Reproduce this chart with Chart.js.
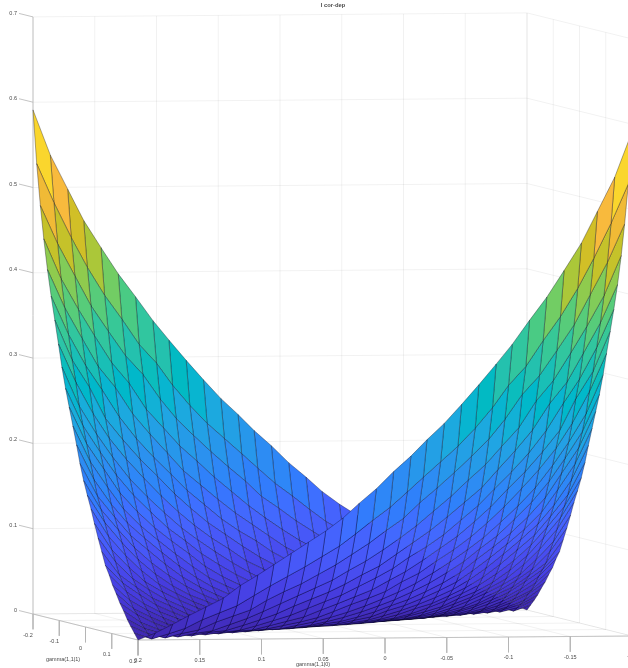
<!DOCTYPE html>
<html>
<head>
<meta charset="utf-8">
<title>I cor-dep</title>
<style>
  html, body { margin: 0; padding: 0; background: #fff; }
  #wrap { width: 628px; height: 668px; overflow: hidden; }
</style>
<script src="https://cdn.jsdelivr.net/npm/chart.js@4"></script>
</head>
<body>
<div id="wrap"><canvas id="surface" width="628" height="668"></canvas></div>
<script>
// Axis values
const gamma11 = [-0.2,-0.186,-0.172,-0.159,-0.145,-0.131,-0.117,-0.103,-0.09,-0.076,-0.062,-0.048,-0.034,-0.021,-0.007,0.007,0.021,0.034,0.048,0.062,0.076,0.09,0.103,0.117,0.131,0.145,0.159,0.172,0.186,0.2];
const gamma18 = [0.2,0.186,0.172,0.159,0.145,0.131,0.117,0.103,0.09,0.076,0.062,0.048,0.034,0.021,0.007,-0.007,-0.021,-0.034,-0.048,-0.062,-0.076,-0.09,-0.103,-0.117,-0.131,-0.145,-0.159,-0.172,-0.186,-0.2];
const g11Ticks = [-0.2, -0.1, 0, 0.1, 0.2];
const g18Ticks = [0.2, 0.15, 0.1, 0.05, 0, -0.05, -0.1, -0.15, -0.2];
const zTicks = [0, 0.1, 0.2, 0.3, 0.4, 0.5, 0.6, 0.7];

// Surface heights in thousandths, one row per gamma11 value, one column per gamma18 value
const zRows = [
  [591,538,498,461,429,398,371,343,320,296,273,251,232,213,195,175,158,141,126,113,100,87,75,63,48,38,28,18,8,0],
  [529,483,442,407,374,346,316,294,268,244,223,205,187,170,152,137,121,107,95,83,72,61,50,38,30,22,12,6,0,7],
  [481,436,398,363,333,304,282,253,230,210,191,173,156,138,124,109,96,84,73,62,53,43,32,25,18,9,5,0,5,14],
  [443,396,360,329,297,273,242,220,199,181,162,145,128,114,100,87,76,65,56,47,38,29,21,14,7,4,0,4,10,21],
  [408,363,327,294,269,238,214,192,171,154,137,121,107,94,80,70,59,50,42,34,25,18,12,6,4,0,3,8,16,30],
  [378,333,296,268,236,210,188,168,149,132,115,101,89,76,65,55,45,38,30,22,16,10,5,3,0,3,7,14,24,38],
  [351,304,272,235,210,187,167,146,129,112,98,84,71,61,50,42,34,27,19,14,9,4,3,0,2,6,12,20,30,48],
  [324,279,242,213,188,166,145,126,110,95,82,68,58,47,39,32,24,17,12,8,4,2,0,2,5,10,18,27,39,57],
  [298,252,219,192,166,145,126,108,94,80,67,55,45,37,29,22,16,11,7,3,2,0,2,4,9,16,24,34,48,68],
  [274,230,199,172,148,128,109,94,79,66,54,44,35,28,21,15,10,6,3,2,0,1,4,8,14,22,31,43,57,78],
  [253,210,180,152,130,111,95,80,65,53,43,34,27,20,14,9,6,3,1,0,1,3,7,12,19,29,38,51,66,93],
  [232,190,160,134,114,97,81,66,53,43,34,26,20,13,9,5,3,1,0,1,3,6,11,17,26,35,47,60,80,108],
  [211,170,141,119,101,84,68,54,43,34,26,19,13,8,5,2,1,0,1,3,6,10,16,24,33,43,55,72,93,124],
  [190,152,127,105,88,71,56,44,35,26,20,13,8,5,2,1,0,1,3,5,9,15,22,30,40,51,67,85,108,140],
  [171,137,113,92,74,59,46,36,28,20,13,8,5,2,1,0,1,2,5,9,14,20,29,37,48,62,79,99,123,155],
  [155,123,99,79,62,48,37,29,20,14,9,5,2,1,0,1,2,5,8,13,20,28,36,46,59,74,92,113,137,171],
  [140,108,85,67,51,40,30,22,15,9,5,3,1,0,1,2,5,8,13,20,26,35,44,56,71,88,105,127,152,190],
  [124,93,72,55,43,33,24,16,10,6,3,1,0,1,2,5,8,13,19,26,34,43,54,68,84,101,119,141,170,211],
  [108,80,60,47,35,26,17,11,6,3,1,0,1,3,5,9,13,20,26,34,43,53,66,81,97,114,134,160,190,232],
  [93,66,51,38,29,19,12,7,3,1,0,1,3,6,9,14,20,27,34,43,53,65,80,95,111,130,152,180,210,253],
  [78,57,43,31,22,14,8,4,1,0,2,3,6,10,15,21,28,35,44,54,66,79,94,109,128,148,172,199,230,274],
  [68,48,34,24,16,9,4,2,0,2,3,7,11,16,22,29,37,45,55,67,80,94,108,126,145,166,192,219,252,298],
  [57,39,27,18,10,5,2,0,2,4,8,12,17,24,32,39,47,58,68,82,95,110,126,145,166,188,213,242,279,324],
  [48,30,20,12,6,2,0,3,4,9,14,19,27,34,42,50,61,71,84,98,112,129,146,167,187,210,235,272,304,351],
  [38,24,14,7,3,0,3,5,10,16,22,30,38,45,55,65,76,89,101,115,132,149,168,188,210,236,268,296,333,378],
  [30,16,8,3,0,4,6,12,18,25,34,42,50,59,70,80,94,107,121,137,154,171,192,214,238,269,294,327,363,408],
  [21,10,4,0,4,7,14,21,29,38,47,56,65,76,87,100,114,128,145,162,181,199,220,242,273,297,329,360,396,443],
  [14,5,0,5,9,18,25,32,43,53,62,73,84,96,109,124,138,156,173,191,210,230,253,282,304,333,363,398,436,481],
  [7,0,6,12,22,30,38,50,61,72,83,95,107,121,137,152,170,187,205,223,244,268,294,316,346,374,407,442,483,529],
  [0,8,18,28,38,48,63,75,87,100,113,126,141,158,175,195,213,232,251,273,296,320,343,371,398,429,461,498,538,591]
];

// parula colormap
const parula = [
  [.2422,.1504,.6603],[.2504,.1650,.7076],[.2578,.1818,.7511],[.2647,.1978,.7952],[.2706,.2147,.8364],[.2751,.2342,.8710],[.2783,.2559,.8991],[.2803,.2782,.9221],
  [.2813,.3006,.9414],[.2810,.3228,.9579],[.2795,.3447,.9717],[.2760,.3667,.9829],[.2699,.3892,.9906],[.2602,.4123,.9952],[.2440,.4358,.9988],[.2206,.4603,.9973],
  [.1963,.4847,.9892],[.1834,.5074,.9798],[.1786,.5289,.9682],[.1764,.5499,.9520],[.1687,.5703,.9359],[.1540,.5902,.9218],[.1460,.6091,.9079],[.1380,.6276,.8973],
  [.1248,.6459,.8883],[.1113,.6635,.8763],[.0952,.6798,.8598],[.0689,.6948,.8394],[.0297,.7082,.8163],[.0036,.7203,.7917],[.0067,.7312,.7660],[.0433,.7411,.7394],
  [.0964,.7500,.7120],[.1408,.7584,.6842],[.1717,.7670,.6554],[.1938,.7758,.6251],[.2161,.7843,.5923],[.2470,.7918,.5567],[.2906,.7973,.5188],[.3406,.8008,.4789],
  [.3909,.8029,.4354],[.4456,.8024,.3909],[.5044,.7993,.3480],[.5616,.7942,.3045],[.6174,.7876,.2612],[.6720,.7793,.2227],[.7242,.7698,.1910],[.7738,.7598,.1646],
  [.8203,.7498,.1535],[.8634,.7406,.1596],[.9035,.7330,.1774],[.9393,.7288,.2100],[.9728,.7298,.2394],[.9956,.7434,.2371],[.9970,.7659,.2199],[.9952,.7893,.2028],
  [.9892,.8136,.1885],[.9786,.8386,.1766],[.9676,.8639,.1643],[.9610,.8890,.1537],[.9597,.9135,.1423],[.9628,.9373,.1265],[.9691,.9606,.1064],[.9769,.9839,.0805]
];

const zMax = 0.591;
const gridColor = 'rgba(0,0,0,0.055)';
const axisColor = '#b5b5b5';
const edgeColor = 'rgba(0,0,20,0.55)';
const textColor = '#4a4a4a';
const tickDrop = -0.018;
const zTickOut = -0.2533;

// orthographic view of the MATLAB axes box
function project(g1, g2, z) {
  return {
    x: 33 + 262.5 * (g1 + 0.2) + 1235 * (0.2 - g2),
    y: 614 + 65 * (g1 + 0.2) - 10 * (0.2 - g2) - 853 * z
  };
}

function colorFor(z) {
  const idx = Math.max(0, Math.min(63, Math.round(z / zMax * 63)));
  const c = parula[idx];
  return `rgb(${Math.round(c[0] * 255)},${Math.round(c[1] * 255)},${Math.round(c[2] * 255)})`;
}

function lineSet(points, color, width) {
  return {
    data: points,
    showLine: true,
    borderColor: color,
    borderWidth: width,
    pointRadius: 0,
    fill: false,
    clip: false
  };
}

function segment(a, b, color, width) {
  return lineSet([project(a[0], a[1], a[2]), project(b[0], b[1], b[2])], color, width);
}

// First dataset is painted last, so the nearest cell goes first
const datasets = [];
for (let i = gamma11.length - 2; i >= 0; i--) {
  for (let j = 0; j < gamma18.length - 1; j++) {
    const corners = [[i, j], [i, j + 1], [i + 1, j + 1], [i + 1, j], [i, j]];
    const points = corners.map(c => project(gamma11[c[0]], gamma18[c[1]], zRows[c[0]][c[1]] / 1000));
    const mean = (zRows[i][j] + zRows[i][j + 1] + zRows[i + 1][j] + zRows[i + 1][j + 1]) / 4000;
    datasets.push({
      data: points,
      showLine: true,
      borderColor: edgeColor,
      borderWidth: 0.6,
      backgroundColor: colorFor(mean),
      pointRadius: 0,
      fill: 'shape',
      clip: false
    });
  }
}

// Axis lines and tick marks
datasets.push(segment([-0.2, 0.2, 0], [-0.2, 0.2, 0.7], axisColor, 0.8));
datasets.push(segment([-0.2, 0.2, 0], [0.2, 0.2, 0], axisColor, 0.8));
datasets.push(segment([0.2, 0.2, 0], [0.2, -0.2, 0], axisColor, 0.8));
zTicks.forEach(z => datasets.push(segment([-0.2, 0.2, z], [zTickOut, 0.2, z], axisColor, 0.8)));
g11Ticks.forEach(g => datasets.push(segment([g, 0.2, 0], [g, 0.2, tickDrop], axisColor, 0.8)));
g18Ticks.forEach(g => datasets.push(segment([0.2, g, 0], [0.2, g, tickDrop], axisColor, 0.8)));

// Back walls and floor grid
zTicks.forEach(z => {
  datasets.push(segment([-0.2, 0.2, z], [-0.2, -0.2, z], gridColor, 1));
  datasets.push(segment([-0.2, -0.2, z], [0.2, -0.2, z], gridColor, 1));
});
g18Ticks.forEach(g => {
  datasets.push(segment([-0.2, g, 0], [-0.2, g, 0.7], gridColor, 1));
  datasets.push(segment([-0.2, g, 0], [0.2, g, 0], gridColor, 1));
});
g11Ticks.forEach(g => {
  datasets.push(segment([g, -0.2, 0], [g, -0.2, 0.7], gridColor, 1));
  datasets.push(segment([g, 0.2, 0], [g, -0.2, 0], gridColor, 1));
});

function putText(ctx, chart, text, px, py, align, font) {
  ctx.font = font;
  ctx.textAlign = align;
  ctx.textBaseline = 'middle';
  ctx.fillStyle = textColor;
  ctx.fillText(text, chart.scales.x.getPixelForValue(px), chart.scales.y.getPixelForValue(py));
}

const labelsPlugin = {
  id: 'axisText',
  afterDraw(chart) {
    const ctx = chart.ctx;
    const font = '5.5px "Liberation Sans", Arial, sans-serif';
    ctx.save();
    putText(ctx, chart, 'I cor-dep', 333, 5.5, 'center', 'bold 5.8px "Liberation Sans", Arial, sans-serif');
    zTicks.forEach(z => {
      const p = project(-0.2, 0.2, z);
      putText(ctx, chart, String(z), p.x - 16, p.y - 3.5, 'right', font);
    });
    g11Ticks.forEach(g => {
      const p = project(g, 0.2, 0);
      putText(ctx, chart, String(g), p.x - 5, p.y + 21, 'center', font);
    });
    g18Ticks.forEach(g => {
      const p = project(0.2, g, 0);
      putText(ctx, chart, String(g), p.x, p.y + 20.5, 'center', font);
    });
    putText(ctx, chart, 'gamma(1,1|1)', 63, 659.5, 'center', font);
    putText(ctx, chart, 'gamma(1,1|0)', 313, 664.5, 'center', font);
    ctx.restore();
  }
};

new Chart(document.getElementById('surface').getContext('2d'), {
  type: 'scatter',
  data: { datasets: datasets },
  plugins: [labelsPlugin],
  options: {
    responsive: false,
    animation: false,
    devicePixelRatio: 1,
    layout: { padding: 0 },
    plugins: {
      legend: { display: false },
      tooltip: { enabled: false },
      title: { display: false }
    },
    scales: {
      x: { type: 'linear', min: 0, max: 628, display: false },
      y: { type: 'linear', min: 0, max: 668, reverse: true, display: false }
    }
  }
});
</script>
</body>
</html>
